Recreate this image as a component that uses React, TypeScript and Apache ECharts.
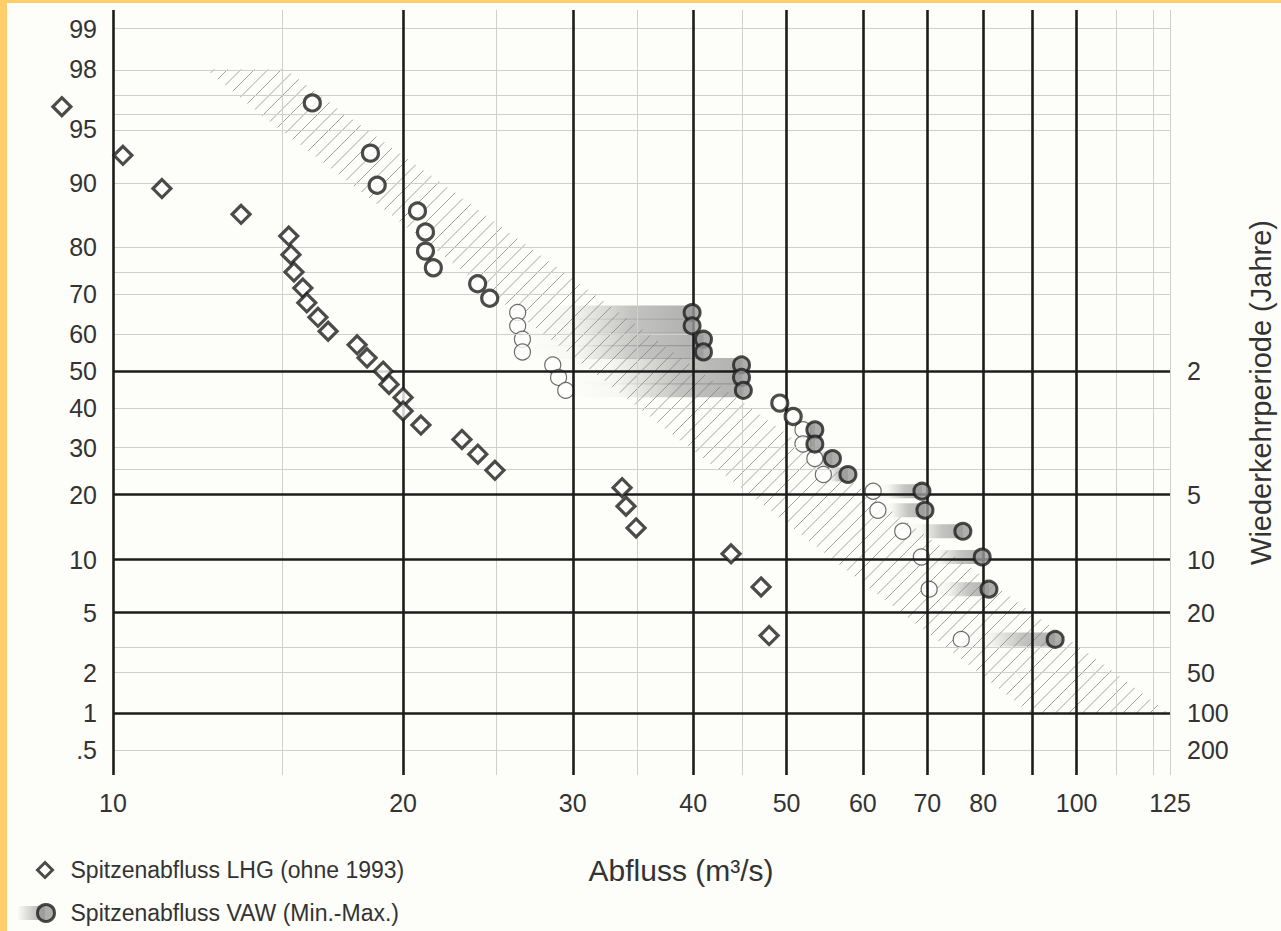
import React, { useEffect, useRef } from 'react';
import * as echarts from 'echarts';

const FONT = '"Liberation Sans", Arial, Helvetica, sans-serif';
const TEXT = '#333333';
const BG = '#fdfdf9';

// Spitzenabfluss LHG (ohne 1993): discharge (m3/s) and exceedance probability (%)
const lhgQ = [8.85, 10.24, 11.24, 13.58, 15.22, 15.3, 15.41, 15.74, 15.89, 16.32, 16.72, 17.92, 18.35, 19.07, 19.34, 20.0, 20.0, 20.87, 23.02, 23.91, 24.91, 33.75, 34.07, 34.9, 43.79, 47.05, 47.96];
const lhgP = [96.4, 92.9, 89.3, 85.7, 82.1, 78.6, 75.0, 71.4, 67.9, 64.3, 60.7, 57.1, 53.6, 50.0, 46.4, 42.9, 39.3, 35.7, 32.1, 28.6, 25.0, 21.4, 17.9, 14.3, 10.7, 7.1, 3.6];

// Spitzenabfluss VAW (Min.-Max.)
const vawP = [96.6, 93.1, 89.7, 86.2, 82.8, 79.3, 75.9, 72.4, 69.0, 65.5, 62.1, 58.6, 55.2, 51.7, 48.3, 44.8, 41.4, 37.9, 34.5, 31.0, 27.6, 24.1, 20.7, 17.2, 13.8, 10.3, 6.9, 3.4];
const vawMin = [16.1, 18.5, 18.8, 20.7, 21.1, 21.1, 21.5, 23.9, 24.6, 26.3, 26.3, 26.6, 26.6, 28.6, 29.0, 29.5, 49.2, 50.8, 52.0, 52.0, 53.5, 54.6, 61.5, 62.2, 66.0, 69.0, 70.3, 75.9];
const vawMax = [16.1, 18.5, 18.8, 20.7, 21.1, 21.1, 21.5, 23.9, 24.6, 39.9, 39.9, 41.0, 41.0, 44.9, 44.9, 45.1, 49.2, 50.8, 53.5, 53.5, 55.8, 57.9, 69.1, 69.6, 76.2, 79.8, 81.1, 95.0];

// hatched band (lower / upper discharge bound per exceedance probability)
const bandP = [98, 96, 93.4, 90, 81.4, 68.5, 47.6, 34.4, 20.9, 11.8, 7.5, 5, 3.4, 2.1, 1];
const bandLowQ = [12.5, 14.2, 15.9, 17.6, 21.0, 25.2, 32.3, 37.6, 45.2, 53.5, 60.0, 65.9, 71.5, 78.5, 89.5];
const bandHighQ = [15.1, 17.4, 19.6, 21.9, 26.4, 32.2, 41.8, 49.4, 60.0, 72.0, 81.5, 89.9, 98.2, 108.6, 124.4];

// axes
const xLabels = [10, 20, 30, 40, 50, 60, 70, 80, 100, 125];
const xHeavy = [10, 20, 30, 40, 50, 60, 70, 80, 90, 100];
const xLight = [15, 25, 35, 45, 110, 120, 125];
const probTicks = [99, 98, 95, 90, 80, 70, 60, 50, 40, 30, 20, 10, 5, 2, 1, 0.5];
const probTickText = ['99', '98', '95', '90', '80', '70', '60', '50', '40', '30', '20', '10', '5', '2', '1', '.5'];
const returnPeriods = [2, 5, 10, 20, 50, 100, 200];
const yHeavy = [50, 20, 10, 5, 1];
const yLight = [99, 98, 97, 96, 95, 90, 80, 75, 70, 60, 40, 30, 25, 3, 2, 0.5];
const P_TOP = 99.3;
const P_BOTTOM = 0.3;

const NAME_LHG = 'Spitzenabfluss LHG (ohne 1993)';
const NAME_VAW = 'Spitzenabfluss VAW (Min.-Max.)';

// inverse standard normal CDF (probability paper scale)
function normInv(p: number): number {
  const a = [-39.69683028665376, 220.9460984245205, -275.9285104469687, 138.357751867269, -30.66479806614716, 2.506628277459239];
  const b = [-54.47609879822406, 161.5858368580409, -155.6989798598866, 66.80131188771972, -13.28068155288572];
  const c = [-0.007784894002430293, -0.3223964580411365, -2.400758277161838, -2.549732539343734, 4.374664141464968, 2.938163982698783];
  const d = [0.007784695709041462, 0.3224671290700398, 2.445134137142996, 3.754408661907416];
  const pl = 0.02425;
  if (p < pl) {
    const q = Math.sqrt(-2 * Math.log(p));
    return (((((c[0] * q + c[1]) * q + c[2]) * q + c[3]) * q + c[4]) * q + c[5]) / ((((d[0] * q + d[1]) * q + d[2]) * q + d[3]) * q + 1);
  }
  if (p <= 1 - pl) {
    const q = p - 0.5;
    const r = q * q;
    return ((((((a[0] * r + a[1]) * r + a[2]) * r + a[3]) * r + a[4]) * r + a[5]) * q) / (((((b[0] * r + b[1]) * r + b[2]) * r + b[3]) * r + b[4]) * r + 1);
  }
  const q = Math.sqrt(-2 * Math.log(1 - p));
  return -(((((c[0] * q + c[1]) * q + c[2]) * q + c[3]) * q + c[4]) * q + c[5]) / ((((d[0] * q + d[1]) * q + d[2]) * q + d[3]) * q + 1);
}
const zOf = (P: number) => normInv(1 - P / 100);

function nearestIndex(values: number[], v: number) {
  let best = 0;
  for (let i = 1; i < values.length; i++) if (Math.abs(values[i] - v) < Math.abs(values[best] - v)) best = i;
  return best;
}

export default function App() {
  const ref = useRef<HTMLDivElement>(null);

  useEffect(() => {
    document.body.style.margin = '0';
    document.body.style.overflow = 'hidden';
    if (!ref.current) return;
    const chart = echarts.init(ref.current, undefined, { renderer: 'svg' });

    const leftZ = probTicks.map(zOf);
    const rightZ = returnPeriods.map((t) => zOf(100 / t));

    const heavy = { color: '#1c1c1c', width: 2.6, type: 'solid' };
    const light = { color: '#cfcfcf', width: 1, type: 'solid' };
    const gridLines: any[] = [
      ...xLight.map((v) => ({ xAxis: v, lineStyle: light })),
      ...yLight.concat([P_TOP, P_BOTTOM]).map((p) => ({ yAxis: zOf(p), lineStyle: light })),
      ...yHeavy.map((p) => ({ yAxis: zOf(p), lineStyle: heavy })),
      ...xHeavy.map((v) => ({ xAxis: v, lineStyle: heavy })),
    ];

    const rangeRows: number[][] = [];
    vawP.forEach((p, i) => {
      if (vawMax[i] > vawMin[i]) rangeRows.push([vawMin[i], vawMax[i], zOf(p)]);
    });

    const legendText = { fontSize: 23, lineHeight: 24, color: TEXT, fontFamily: FONT, padding: [0, 0, 0, 13] };

    const option: any = {
      animation: false,
      backgroundColor: BG,
      textStyle: { fontFamily: FONT },
      grid: { left: 113, right: 111, top: 10, bottom: 156, outerBoundsMode: 'none', containLabel: false },
      xAxis: {
        type: 'log',
        logBase: 10,
        min: 10,
        max: 125,
        axisLine: { show: false },
        axisTick: { show: false },
        splitLine: { show: false },
        minorSplitLine: { show: false },
        axisLabel: {
          customValues: xLabels,
          fontSize: 25,
          color: TEXT,
          fontFamily: FONT,
          margin: 15,
          formatter: (v: number) => String(Math.round(v)),
        },
        name: 'Abfluss (m³/s)',
        nameLocation: 'middle',
        nameGap: 80,
        nameTextStyle: { fontSize: 30, color: TEXT, fontFamily: FONT, padding: [0, 0, 0, 79] },
      },
      yAxis: [
        {
          type: 'value',
          min: zOf(P_TOP),
          max: zOf(P_BOTTOM),
          inverse: true,
          axisLine: { show: false },
          axisTick: { show: false },
          splitLine: { show: false },
          axisLabel: {
            customValues: leftZ,
            fontSize: 25,
            color: TEXT,
            fontFamily: FONT,
            margin: 16,
            formatter: (v: number) => probTickText[nearestIndex(leftZ, v)],
          },
        },
        {
          type: 'value',
          position: 'right',
          min: zOf(P_TOP),
          max: zOf(P_BOTTOM),
          inverse: true,
          axisLine: { show: false },
          axisTick: { show: false },
          splitLine: { show: false },
          axisLabel: {
            customValues: rightZ,
            fontSize: 25,
            color: TEXT,
            fontFamily: FONT,
            margin: 17,
            formatter: (v: number) => String(returnPeriods[nearestIndex(rightZ, v)]),
          },
          name: 'Wiederkehrperiode (Jahre)',
          nameLocation: 'middle',
          nameRotate: 90,
          nameGap: 76,
          nameTextStyle: { fontSize: 29, lineHeight: 30, color: TEXT, fontFamily: FONT },
        },
      ],
      legend: [
        {
          left: 31,
          top: 853,
          itemWidth: 15,
          itemHeight: 15,
          selectedMode: false,
          itemStyle: { color: '#ffffff', borderColor: '#1e1e1e', borderWidth: 3 },
          textStyle: legendText,
          data: [{ name: NAME_LHG, icon: 'diamond' }],
        },
        {
          left: 31,
          top: 896,
          itemWidth: 17,
          itemHeight: 17,
          selectedMode: false,
          itemStyle: { color: '#9a9a9a', borderColor: '#1e1e1e', borderWidth: 3 },
          textStyle: { ...legendText, padding: [0, 0, 0, 11] },
          data: [{ name: NAME_VAW, icon: 'circle' }],
        },
      ],
      graphic: [
        { type: 'rect', silent: true, shape: { x: 0, y: 0, width: 7, height: 931 }, style: { fill: '#ffcd6b' } },
        { type: 'rect', silent: true, shape: { x: 0, y: 0, width: 1281, height: 3 }, style: { fill: '#ffcd6b' } },
        {
          type: 'rect',
          silent: true,
          z: -1,
          shape: { x: 17, y: 906, width: 28, height: 14 },
          style: {
            fill: new echarts.graphic.LinearGradient(0, 0, 1, 0, [
              { offset: 0, color: 'rgba(120,120,120,0)' },
              { offset: 1, color: 'rgba(120,120,120,0.65)' },
            ]),
          },
        },
      ],
      series: [
        {
          type: 'scatter',
          name: 'grid',
          data: [[10, 0]],
          symbolSize: 0,
          itemStyle: { opacity: 0 },
          silent: true,
          z: 1,
          markLine: {
            silent: true,
            symbol: ['none', 'none'],
            label: { show: false },
            emphasis: { disabled: true },
            lineStyle: { type: 'solid' },
            data: gridLines,
          },
        },
        {
          type: 'custom',
          name: 'band',
          coordinateSystem: 'cartesian2d',
          silent: true,
          z: 2,
          clip: false,
          data: [[20, 0]],
          renderItem: (_params: any, api: any) => {
            const pts: number[][] = [];
            bandP.forEach((p, i) => pts.push(api.coord([bandLowQ[i], zOf(p)])));
            for (let i = bandP.length - 1; i >= 0; i--) pts.push(api.coord([bandHighQ[i], zOf(bandP[i])]));
            const sums = pts.map((p) => p[0] + p[1]);
            const cMin = Math.min(...sums);
            const cMax = Math.max(...sums);
            const step = 13.5;
            const children: any[] = [];
            for (let c = Math.ceil(cMin / step) * step; c <= cMax; c += step) {
              const xs: number[] = [];
              for (let k = 0; k < pts.length; k++) {
                const a = pts[k];
                const b = pts[(k + 1) % pts.length];
                const fa = a[0] + a[1] - c;
                const fb = b[0] + b[1] - c;
                if (fa > 0 !== fb > 0) {
                  const t = fa / (fa - fb);
                  xs.push(a[0] + t * (b[0] - a[0]));
                }
              }
              xs.sort((m, n) => m - n);
              for (let j = 0; j + 1 < xs.length; j += 2) {
                children.push({
                  type: 'line',
                  shape: { x1: xs[j], y1: c - xs[j], x2: xs[j + 1], y2: c - xs[j + 1] },
                  style: { stroke: '#a2a2a2', lineWidth: 1 },
                });
              }
            }
            return { type: 'group', children };
          },
        },
        {
          type: 'custom',
          name: 'range',
          coordinateSystem: 'cartesian2d',
          silent: true,
          z: 3,
          encode: { x: [0, 1], y: 2 },
          data: rangeRows,
          renderItem: (_params: any, api: any) => {
            const s = api.coord([api.value(0), api.value(2)]);
            const e = api.coord([api.value(1), api.value(2)]);
            return {
              type: 'rect',
              shape: { x: s[0], y: s[1] - 7, width: e[0] - s[0], height: 14 },
              style: {
                fill: new echarts.graphic.LinearGradient(0, 0, 1, 0, [
                  { offset: 0, color: 'rgba(125,125,125,0)' },
                  { offset: 0.3, color: 'rgba(125,125,125,0.05)' },
                  { offset: 0.65, color: 'rgba(125,125,125,0.45)' },
                  { offset: 1, color: 'rgba(125,125,125,0.6)' },
                ]),
              },
            };
          },
        },
        {
          type: 'scatter',
          name: 'VAW Min',
          silent: true,
          z: 4,
          symbol: 'circle',
          symbolSize: 16,
          itemStyle: { color: '#ffffff', borderColor: '#4a4a4a', borderWidth: 1.2 },
          data: rangeRows.map((r) => [r[0], r[2]]),
        },
        {
          type: 'scatter',
          name: NAME_VAW,
          silent: true,
          z: 5,
          symbol: 'circle',
          symbolSize: 16,
          itemStyle: { color: '#9a9a9a', borderColor: '#1e1e1e', borderWidth: 3 },
          data: vawP.map((p, i) => ({
            value: [vawMax[i], zOf(p)],
            itemStyle:
              vawMax[i] > vawMin[i]
                ? { color: '#9a9a9a', borderColor: '#1e1e1e', borderWidth: 3 }
                : { color: '#ffffff', borderColor: '#1e1e1e', borderWidth: 3.2 },
          })),
        },
        {
          type: 'scatter',
          name: NAME_LHG,
          silent: true,
          z: 6,
          clip: false,
          symbol: 'diamond',
          symbolSize: 18,
          itemStyle: { color: '#ffffff', borderColor: '#1e1e1e', borderWidth: 3.2 },
          data: lhgQ.map((q, i) => [q, zOf(lhgP[i])]),
        },
      ],
    };

    chart.setOption(option);
    return () => chart.dispose();
  }, []);

  return <div ref={ref} style={{ position: 'absolute', left: 0, top: 0, width: 1281, height: 931 }} />;
}
